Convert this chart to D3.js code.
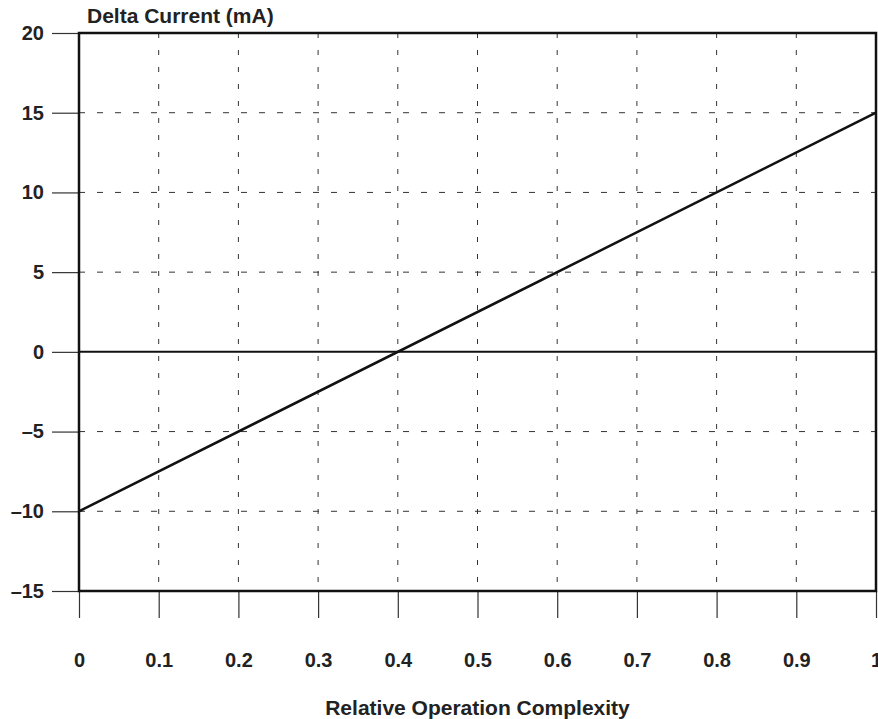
<!DOCTYPE html>
<html>
<head>
<meta charset="utf-8">
<script src="https://cdn.jsdelivr.net/npm/d3@7"></script>
<style>
  body { margin: 0; background: #fff; }
  text { font-family: "Liberation Sans", Arial, sans-serif; font-weight: bold; fill: #222; }
</style>
</head>
<body>
<svg id="chart" width="878" height="719"></svg>
<script>
const complexity = [0, 1];
const deltaCurrent = [-10, 15];
const xTicks = [0, 0.1, 0.2, 0.3, 0.4, 0.5, 0.6, 0.7, 0.8, 0.9, 1];
const yTicks = [-15, -10, -5, 0, 5, 10, 15, 20];

const width = 878, height = 719;
const margin = {top: 33, right: 2, bottom: 128, left: 79};

const svg = d3.select('#chart');

const x = d3.scaleLinear().domain([0, 1]).range([margin.left, width - margin.right]);
const y = d3.scaleLinear().domain([-15, 20]).range([height - margin.bottom, margin.top]);

const fmtY = d => (d < 0 ? '\u2013' + Math.abs(d) : String(d));

// grid
svg.append('g')
  .selectAll('line')
  .data(yTicks.filter(d => d !== -15 && d !== 20 && d !== 0))
  .join('line')
  .attr('x1', x(0)).attr('x2', x(1))
  .attr('y1', d => y(d)).attr('y2', d => y(d))
  .attr('stroke', '#333')
  .attr('stroke-width', 1)
  .attr('stroke-dasharray', '6,12');

svg.append('g')
  .selectAll('line')
  .data(xTicks.filter(d => d !== 0 && d !== 1))
  .join('line')
  .attr('x1', d => x(d)).attr('x2', d => x(d))
  .attr('y1', y(20)).attr('y2', y(-15))
  .attr('stroke', '#333')
  .attr('stroke-width', 1)
  .attr('stroke-dasharray', '5,12');

// y axis
const yAxis = d3.axisLeft(y).tickValues(yTicks).tickFormat(fmtY).tickSize(27).tickPadding(8);
const gy = svg.append('g').attr('transform', `translate(${x(0)},0)`).call(yAxis);
gy.select('.domain').remove();
gy.selectAll('.tick line').attr('stroke', '#333').attr('stroke-width', 1.2);
gy.selectAll('.tick text').style('font-size', '20px').attr('fill', '#222');

// x axis
const xAxis = d3.axisBottom(x).tickValues(xTicks).tickFormat(d3.format('')).tickSize(27).tickPadding(35);
const gx = svg.append('g').attr('transform', `translate(0,${y(-15)})`).call(xAxis);
gx.select('.domain').remove();
gx.selectAll('.tick line').attr('stroke', '#333').attr('stroke-width', 1.2);
gx.selectAll('.tick text').style('font-size', '20px').attr('fill', '#222');

// zero line
svg.append('line')
  .attr('x1', x(0)).attr('x2', x(1))
  .attr('y1', y(0)).attr('y2', y(0))
  .attr('stroke', '#111')
  .attr('stroke-width', 2);

// frame
svg.append('rect')
  .attr('x', x(0)).attr('y', y(20))
  .attr('width', x(1) - x(0)).attr('height', y(-15) - y(20))
  .attr('fill', 'none')
  .attr('stroke', '#111')
  .attr('stroke-width', 2.5);

// data line
const line = d3.line().x(d => x(d[0])).y(d => y(d[1]));
svg.append('path')
  .datum(complexity.map((c, i) => [c, deltaCurrent[i]]))
  .attr('d', line)
  .attr('fill', 'none')
  .attr('stroke', '#111')
  .attr('stroke-width', 2.5);

// labels
svg.append('text')
  .attr('x', 87).attr('y', 23)
  .style('font-size', '21px')
  .text('Delta Current (mA)');

svg.append('text')
  .attr('x', (x(0) + x(1)) / 2).attr('y', 715)
  .attr('text-anchor', 'middle')
  .style('font-size', '21px')
  .text('Relative Operation Complexity');
</script>
</body>
</html>
